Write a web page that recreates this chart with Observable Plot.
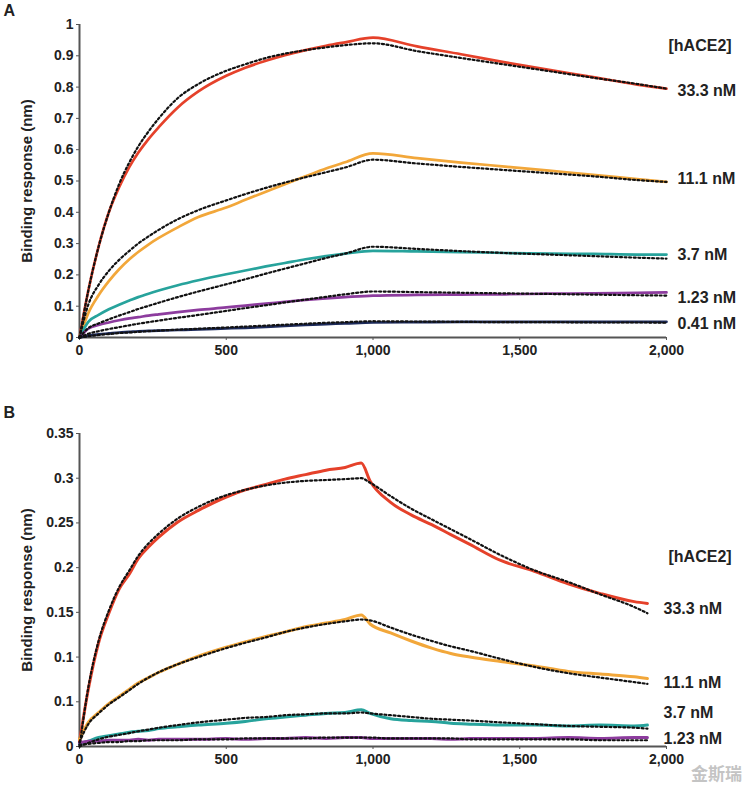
<!DOCTYPE html>
<html><head><meta charset="utf-8">
<script src="https://cdn.jsdelivr.net/npm/d3@7"></script>
<script src="https://cdn.jsdelivr.net/npm/@observablehq/plot@0.6"></script>
<style>
body{margin:0;background:#fff;font-family:"Liberation Sans",Arial,sans-serif;}
#wrap{position:relative;width:750px;height:793px;overflow:hidden;}
#wm{position:absolute;right:8px;bottom:8px;color:#c4c4c4;font:bold 17px "Noto Sans CJK SC",sans-serif;}
svg{display:block}
</style></head><body>
<div id="wrap"><div id="a"></div><div id="b"></div><div id="wm">金斯瑞</div></div>
<script>
// ---------- shared ----------
const seriesNames = ["33.3 nM", "11.1 nM", "3.7 nM", "1.23 nM", "0.41 nM"];
const seriesColors = ["#e5412a", "#f2a73a", "#27a39c", "#8d3c9e", "#1d2b5c"];
const xTicks = [0, 500, 1000, 1500, 2000];

// ---------- Panel A ----------
const tA = [0, 30, 65, 100, 135, 170, 200, 235, 270, 335, 405, 500, 565, 635, 700, 770, 840, 905, 1000, 1150, 1300, 1450, 1600, 1750, 1900, 2000];
const a333 = [0, 0.15, 0.29, 0.40, 0.48, 0.545, 0.59, 0.634, 0.672, 0.735, 0.786, 0.836, 0.862, 0.884, 0.902, 0.918, 0.932, 0.943, 0.958, 0.93, 0.905, 0.879, 0.855, 0.832, 0.808, 0.795];
const a333fit = [0, 0.15, 0.29, 0.40, 0.49, 0.56, 0.61, 0.658, 0.70, 0.765, 0.81, 0.852, 0.873, 0.893, 0.907, 0.918, 0.927, 0.934, 0.94, 0.915, 0.893, 0.872, 0.851, 0.83, 0.81, 0.795];
const a111 = [0, 0.078, 0.135, 0.18, 0.218, 0.25, 0.273, 0.297, 0.318, 0.352, 0.385, 0.415, 0.44, 0.466, 0.49, 0.515, 0.54, 0.56, 0.588, 0.573, 0.559, 0.546, 0.533, 0.52, 0.506, 0.497];
const a111fit = [0, 0.105, 0.168, 0.213, 0.248, 0.277, 0.30, 0.323, 0.344, 0.378, 0.407, 0.438, 0.458, 0.478, 0.495, 0.512, 0.528, 0.543, 0.568, 0.556, 0.545, 0.535, 0.525, 0.515, 0.503, 0.497];
const a37 = [0, 0.05, 0.072, 0.09, 0.105, 0.118, 0.129, 0.14, 0.15, 0.167, 0.183, 0.202, 0.214, 0.227, 0.238, 0.25, 0.26, 0.268, 0.277, 0.275, 0.273, 0.27, 0.268, 0.267, 0.265, 0.265];
const a37fit = [0, 0.03, 0.045, 0.058, 0.07, 0.081, 0.091, 0.101, 0.111, 0.129, 0.147, 0.17, 0.186, 0.204, 0.22, 0.237, 0.254, 0.268, 0.29, 0.283, 0.276, 0.27, 0.265, 0.26, 0.255, 0.252];
const a123 = [0, 0.028, 0.04, 0.048, 0.055, 0.061, 0.065, 0.07, 0.074, 0.081, 0.088, 0.096, 0.102, 0.108, 0.114, 0.12, 0.125, 0.129, 0.134, 0.136, 0.137, 0.138, 0.14, 0.141, 0.143, 0.144];
const a123fit = [0, 0.012, 0.02, 0.027, 0.033, 0.039, 0.044, 0.049, 0.054, 0.063, 0.072, 0.085, 0.094, 0.103, 0.112, 0.121, 0.13, 0.138, 0.147, 0.145, 0.143, 0.141, 0.139, 0.137, 0.135, 0.134];
const a041 = [0, 0.006, 0.01, 0.013, 0.016, 0.018, 0.02, 0.021, 0.022, 0.024, 0.026, 0.029, 0.031, 0.034, 0.037, 0.04, 0.043, 0.045, 0.048, 0.049, 0.05, 0.05, 0.05, 0.05, 0.05, 0.05];
const a041fit = [0, 0.004, 0.008, 0.011, 0.014, 0.016, 0.018, 0.02, 0.022, 0.025, 0.028, 0.032, 0.035, 0.038, 0.041, 0.044, 0.047, 0.049, 0.052, 0.051, 0.05, 0.049, 0.049, 0.048, 0.048, 0.047];
const yTicksA = [0, 0.1, 0.2, 0.3, 0.4, 0.5, 0.6, 0.7, 0.8, 0.9, 1];
const yLabelsA = ["0", "0.1", "0.2", "0.3", "0.4", "0.5", "0.6", "0.7", "0.8", "0.9", "1"];
const endLabelsA = ["33.3 nM", "11.1 nM", "3.7 nM", "1.23 nM", "0.41 nM"];
const endLabelYA = [0.787, 0.506, 0.264, 0.127, 0.045];
const legendTitleYA = 0.933;

// ---------- Panel B ----------
const tB = [0, 30, 65, 100, 135, 170, 200, 235, 270, 335, 405, 500, 565, 635, 700, 770, 840, 905, 960, 990, 1060, 1130, 1200, 1265, 1330, 1435, 1550, 1665, 1775, 1890, 1935];
const b333 = [0.005, 0.064, 0.116, 0.149, 0.176, 0.193, 0.21, 0.223, 0.234, 0.251, 0.264, 0.279, 0.287, 0.293, 0.299, 0.304, 0.309, 0.312, 0.317, 0.297, 0.273, 0.259, 0.248, 0.237, 0.226, 0.208, 0.196, 0.182, 0.171, 0.162, 0.16];
const b333fit = [0, 0.066, 0.118, 0.152, 0.178, 0.197, 0.213, 0.227, 0.238, 0.255, 0.268, 0.281, 0.287, 0.292, 0.295, 0.297, 0.298, 0.299, 0.3, 0.295, 0.28, 0.266, 0.254, 0.243, 0.232, 0.214, 0.197, 0.184, 0.17, 0.156, 0.149];
const b111 = [0.008, 0.027, 0.038, 0.048, 0.056, 0.064, 0.071, 0.077, 0.083, 0.092, 0.101, 0.111, 0.117, 0.123, 0.128, 0.134, 0.138, 0.142, 0.147, 0.137, 0.127, 0.118, 0.11, 0.104, 0.1, 0.095, 0.09, 0.084, 0.081, 0.078, 0.076];
const b111fit = [0.005, 0.025, 0.037, 0.047, 0.055, 0.063, 0.07, 0.077, 0.083, 0.092, 0.1, 0.11, 0.116, 0.122, 0.128, 0.133, 0.137, 0.14, 0.142, 0.141, 0.133, 0.125, 0.118, 0.112, 0.107, 0.098, 0.089, 0.082, 0.077, 0.072, 0.07];
const b37 = [0.003, 0.006, 0.01, 0.012, 0.014, 0.016, 0.017, 0.018, 0.02, 0.022, 0.024, 0.026, 0.028, 0.031, 0.033, 0.035, 0.037, 0.038, 0.041, 0.037, 0.031, 0.029, 0.028, 0.026, 0.025, 0.024, 0.024, 0.023, 0.024, 0.023, 0.024];
const b37fit = [0, 0.004, 0.008, 0.011, 0.013, 0.015, 0.017, 0.019, 0.021, 0.024, 0.027, 0.03, 0.032, 0.033, 0.035, 0.036, 0.037, 0.037, 0.038, 0.037, 0.035, 0.033, 0.031, 0.03, 0.029, 0.027, 0.025, 0.023, 0.022, 0.021, 0.02];
const b123 = [0.004, 0.006, 0.006, 0.007, 0.007, 0.007, 0.008, 0.007, 0.008, 0.008, 0.008, 0.009, 0.008, 0.009, 0.009, 0.01, 0.009, 0.01, 0.01, 0.009, 0.009, 0.009, 0.009, 0.008, 0.009, 0.009, 0.009, 0.01, 0.009, 0.01, 0.01];
const b123fit = [0.002, 0.003, 0.004, 0.005, 0.005, 0.006, 0.006, 0.007, 0.007, 0.007, 0.008, 0.008, 0.009, 0.009, 0.009, 0.009, 0.01, 0.01, 0.01, 0.01, 0.009, 0.009, 0.009, 0.009, 0.008, 0.008, 0.008, 0.008, 0.007, 0.007, 0.007];
const yTicksB = [0, 0.05, 0.1, 0.15, 0.2, 0.25, 0.3, 0.35];
const yLabelsB = ["0", "0.1", "0.1", "0.15", "0.2", "0.25", "0.3", "0.35"];
const endLabelsB = ["33.3 nM", "11.1 nM", "3.7 nM", "1.23 nM"];
const endLabelYB = [0.154, 0.071, 0.038, 0.009];
const legendTitleYB = 0.212;

// ---------- build tables ----------
function table(t, arrays, names) {
  return arrays.flatMap((vals, k) => vals.map((v, i) => ({t: t[i], v, s: names[k]})));
}
const obsA = table(tA, [a333, a111, a37, a123, a041], seriesNames);
const fitA = table(tA, [a333fit, a111fit, a37fit, a123fit, a041fit], seriesNames);
const obsB = table(tB, [b333, b111, b37, b123], seriesNames.slice(0, 4));
const fitB = table(tB, [b333fit, b111fit, b37fit, b123fit], seriesNames.slice(0, 4));

const font = "'Liberation Sans', Arial, sans-serif";

function panel({letter, obs, fit, yDomain, yTicks, yLabels, endLabels, endLabelY, titleY, height, marginTop, marginBottom, labelDx, letterDy, lineW}) {
  const fmtY = d => yLabels[yTicks.findIndex(t => Math.abs(t - d) < 1e-9)];
  return Plot.plot({
    width: 750, height, marginLeft: 79, marginRight: 84, marginTop, marginBottom,
    x: {domain: [0, 2000]},
    y: {domain: yDomain},
    color: {domain: seriesNames, range: seriesColors},
    style: {fontFamily: font, fontWeight: "bold", fontSize: "14px", color: "#222", background: "white", overflow: "visible"},
    marks: [
      Plot.axisX({ticks: xTicks, tickFormat: d3.format(","), tickSize: 3, tickPadding: 5, label: null, stroke: "#555"}),
      Plot.axisY({ticks: yTicks, tickFormat: fmtY, tickSize: 3, tickPadding: 3, label: null, stroke: "#555"}),
      Plot.ruleX([0], {stroke: "#555", strokeWidth: 2}),
      Plot.ruleY([0], {stroke: "#555", strokeWidth: 2}),
      Plot.line(obs, {x: "t", y: "v", z: "s", stroke: "s", strokeWidth: lineW, curve: "monotone-x"}),
      Plot.line(fit, {x: "t", y: "v", z: "s", stroke: "#111", strokeWidth: 2.2, strokeDasharray: "2,2.6", curve: "monotone-x"}),
      Plot.text(endLabels, {x: () => 2000, y: (d, i) => endLabelY[i], text: d => d, textAnchor: "start", dx: labelDx, fontSize: 16, fontWeight: "bold", fill: "#222"}),
      Plot.text(["[hACE2]"], {x: () => 2000, y: () => titleY, text: d => d, textAnchor: "start", dx: 2, fontSize: 16, fontWeight: "bold", fill: "#222"}),
      Plot.text(["Binding response (nm)"], {frameAnchor: "left", rotate: -90, dx: -52, textAnchor: "middle", fontSize: 15, fontWeight: "bold", fill: "#222"}),
      Plot.text([letter], {frameAnchor: "top-left", textAnchor: "start", lineAnchor: "top", dx: -76, dy: letterDy, fontSize: 16, fontWeight: "bold", fill: "#222"})
    ]
  });
}

document.getElementById("a").append(panel({
  letter: "A", obs: obsA, fit: fitA, yDomain: [0, 1], yTicks: yTicksA, yLabels: yLabelsA,
  endLabels: endLabelsA, endLabelY: endLabelYA, titleY: legendTitleYA,
  height: 400, marginTop: 24, marginBottom: 63, labelDx: 11, letterDy: -20, lineW: 2.7
}));
document.getElementById("b").append(panel({
  letter: "B", obs: obsB, fit: fitB, yDomain: [0, 0.35], yTicks: yTicksB, yLabels: yLabelsB,
  endLabels: endLabelsB, endLabelY: endLabelYB, titleY: legendTitleYB,
  height: 393, marginTop: 33, marginBottom: 47, labelDx: -3, letterDy: -27, lineW: 3
}));
</script>
</body></html>
